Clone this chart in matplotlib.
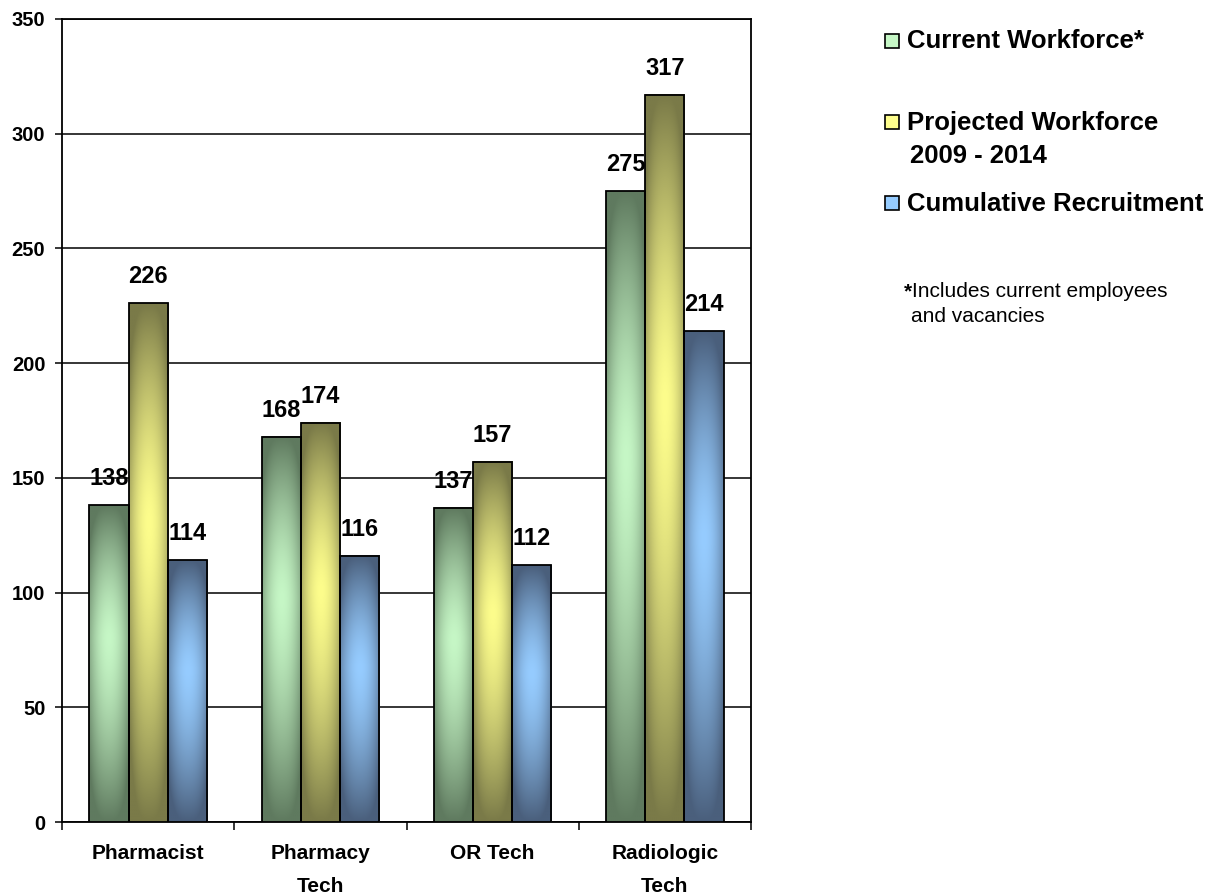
import numpy as np
import matplotlib
matplotlib.use("Agg")
import matplotlib.pyplot as plt
from matplotlib.patches import Rectangle
from matplotlib.colors import to_rgb

# Workforce data by occupation
categories = ["Pharmacist", "Pharmacy\nTech", "OR Tech", "Radiologic\nTech"]
current_workforce = [138, 168, 137, 275]
projected_workforce = [226, 174, 157, 317]
cumulative_recruitment = [114, 116, 112, 214]
series_labels = ["Current Workforce*", "Projected Workforce\n2009 - 2014", "Cumulative Recruitment"]
y_ticks = [0, 50, 100, 150, 200, 250, 300, 350]

# (dark, light) colour pairs for each series' shaded fill
palette = [("#5f7a5f", "#c6f7c6"), ("#7a7a48", "#fdfd8c"), ("#4a5f7c", "#96ccff")]

plt.rcParams["font.family"] = ["Liberation Sans", "DejaVu Sans"]

W, H = 1225, 896
fig = plt.figure(figsize=(W / 100, H / 100), dpi=100)
ax = fig.add_axes([62 / W, 74 / H, 689 / W, 803 / H])

n_cat = len(categories)
x = np.arange(n_cat)
bar_w = 0.227
series = [current_workforce, projected_workforce, cumulative_recruitment]
px_per_unit = 803 / 350


def shaded_image(dark, light, ny=200, nx=60, peak=0.58):
    d = np.array(to_rgb(dark))
    l = np.array(to_rgb(light))
    t = np.linspace(0, 1, ny)[:, None]          # bottom -> top
    s = np.linspace(-1, 1, nx)[None, :]         # left -> right
    vt = np.where(t < peak, (peak - t) / peak, (t - peak) / (1 - peak))
    vert = 1 - vt ** 1.5
    horiz = 1 - 0.6 * np.abs(s) ** 2.0
    mix = np.clip(vert * horiz - 0.3 * np.abs(s) ** 3 * (1 - vert), 0, 1)
    img = d[None, None, :] + (l - d)[None, None, :] * mix[..., None]
    return img[::-1]                             # image rows run top -> bottom


for i, vals in enumerate(series):
    offs = (i - 1) * bar_w
    bars = ax.bar(x + offs, vals, width=bar_w, facecolor="none",
                  edgecolor="black", linewidth=1.3, zorder=4)
    img = shaded_image(*palette[i])
    for rect, v in zip(bars, vals):
        x0 = rect.get_x()
        ax.imshow(img, extent=[x0, x0 + bar_w, 0, v], aspect="auto",
                  zorder=3, interpolation="bilinear")
        ax.text(x0 + bar_w / 2, v + 20 / px_per_unit, f"{v}", ha="center",
                va="baseline", fontsize=17, fontweight="bold", zorder=5)

ax.set_xlim(-0.5, n_cat - 0.5)
ax.set_ylim(0, 350)
ax.set_yticks(y_ticks)
ax.set_yticklabels([str(t) for t in y_ticks], fontsize=14.5, fontweight="bold")
ax.yaxis.grid(True, color="black", linewidth=1.1, zorder=1)
ax.set_axisbelow(True)

# category labels centred under groups, ticks on group boundaries
ax.set_xticks(np.arange(-0.5, n_cat, 1.0))
ax.set_xticklabels([])
ax.tick_params(axis="x", direction="out", length=6, width=1.1)
ax.tick_params(axis="y", direction="out", length=5, width=1.1, pad=7)
for xi, lab in zip(x, categories):
    ax.text(xi, -22 / px_per_unit, lab, ha="center", va="top", fontsize=15,
            fontweight="bold", linespacing=1.95)

for sp in ax.spines.values():
    sp.set_color("black")
    sp.set_linewidth(1.3)

# legend drawn in figure pixel coordinates
legend_sq_y = [41, 122, 203]
for (d, l), yc in zip(palette, legend_sq_y):
    sq = Rectangle((885 / W, 1 - (yc + 7) / H), 14 / W, 14 / H,
                   transform=fig.transFigure, facecolor=l, edgecolor="black",
                   linewidth=1.2)
    fig.patches.append(sq)

label_lines = [(series_labels[0], 907, 48),
               (series_labels[1].split("\n")[0], 907, 130),
               (series_labels[1].split("\n")[1], 910, 163),
               (series_labels[2], 907, 211)]
for txt, xp, yb in label_lines:
    fig.text(xp / W, 1 - yb / H, txt, ha="left", va="baseline",
             fontsize=18.5, fontweight="bold")

fig.text(904 / W, 1 - 297 / H, "*", ha="left", va="baseline", fontsize=15, fontweight="bold")
fig.text(912 / W, 1 - 297 / H, "Includes current employees", ha="left", va="baseline", fontsize=15)
fig.text(911 / W, 1 - 322 / H, "and vacancies", ha="left", va="baseline", fontsize=15)

fig.savefig("out.png", dpi=100)
